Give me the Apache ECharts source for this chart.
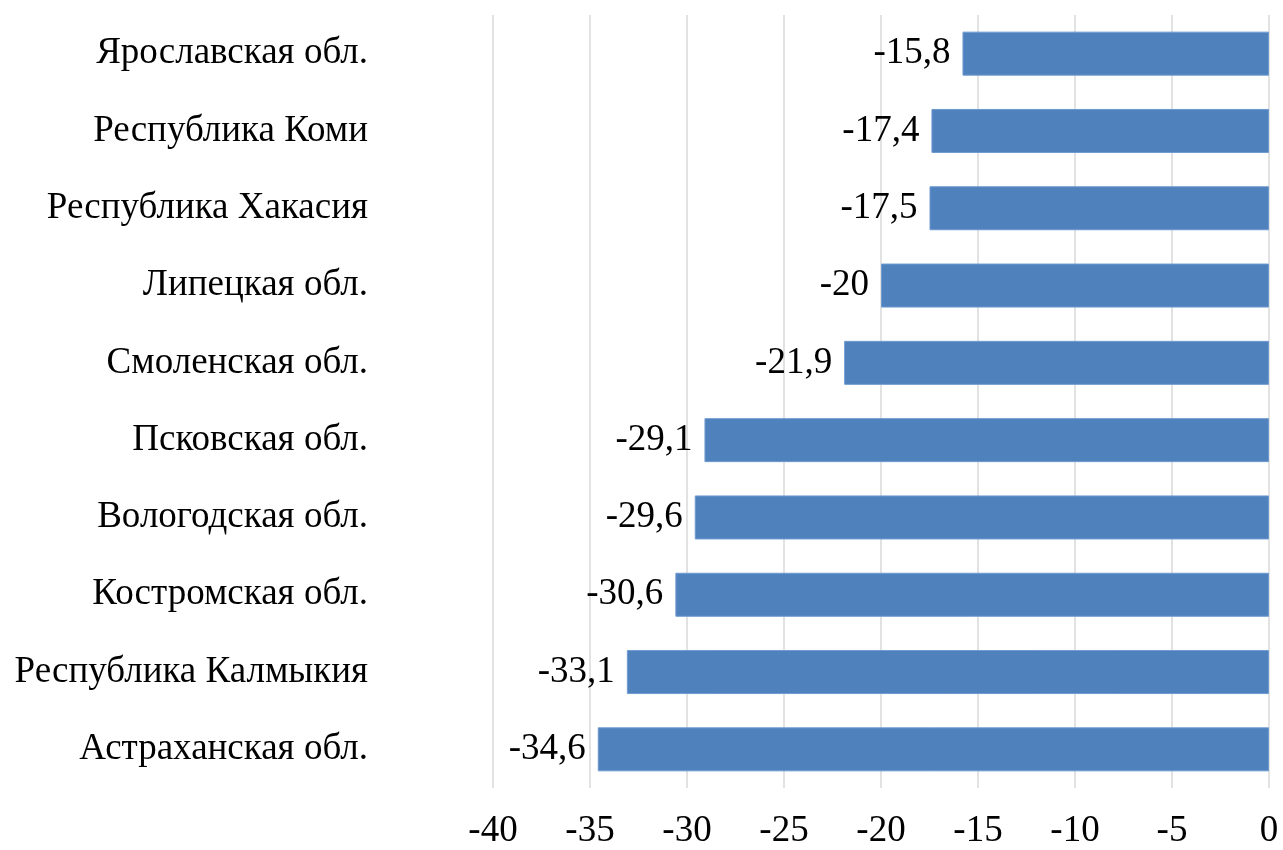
<!DOCTYPE html>
<html><head><meta charset="utf-8">
<script src="https://cdn.jsdelivr.net/npm/echarts@6/dist/echarts.min.js"></script>
<style>html,body{margin:0;padding:0;background:#fff}#c{width:1283px;height:850px}</style>
</head><body><div id="c"></div>
<script>
const categories = ["Астраханская обл.","Республика Калмыкия","Костромская обл.","Вологодская обл.","Псковская обл.","Смоленская обл.","Липецкая обл.","Республика Хакасия","Республика Коми","Ярославская обл."];
const values = [-34.6,-33.1,-30.6,-29.6,-29.1,-21.9,-20,-17.5,-17.4,-15.8];
const tickMin = -40, tickMax = 0, tickStep = 5;
const font = '"Liberation Serif","Times New Roman",serif';
const chart = echarts.init(document.getElementById('c'));
chart.setOption({
  animation:false,
  grid:{left:493,right:14,top:15,bottom:56,containLabel:false},
  xAxis:{type:'value',min:tickMin,max:tickMax,interval:tickStep,
    axisLine:{show:false},axisTick:{show:false},
    splitLine:{lineStyle:{color:'#d9d9d9',width:1.5}},
    axisLabel:{color:'#000',fontFamily:font,fontSize:37,margin:25}},
  yAxis:{type:'category',data:categories,
    axisLine:{show:false},axisTick:{show:false},
    axisLabel:{color:'#000',fontFamily:font,fontSize:37,margin:125}},
  series:[{type:'bar',data:values,barWidth:44,
    itemStyle:{color:'#4F81BD',borderColor:'#6f9ad0',borderWidth:1},
    label:{show:true,position:'left',distance:12,color:'#000',fontFamily:font,fontSize:37,
      formatter:p=>String(p.value).replace('.',',')}}]
});
</script></body></html>
